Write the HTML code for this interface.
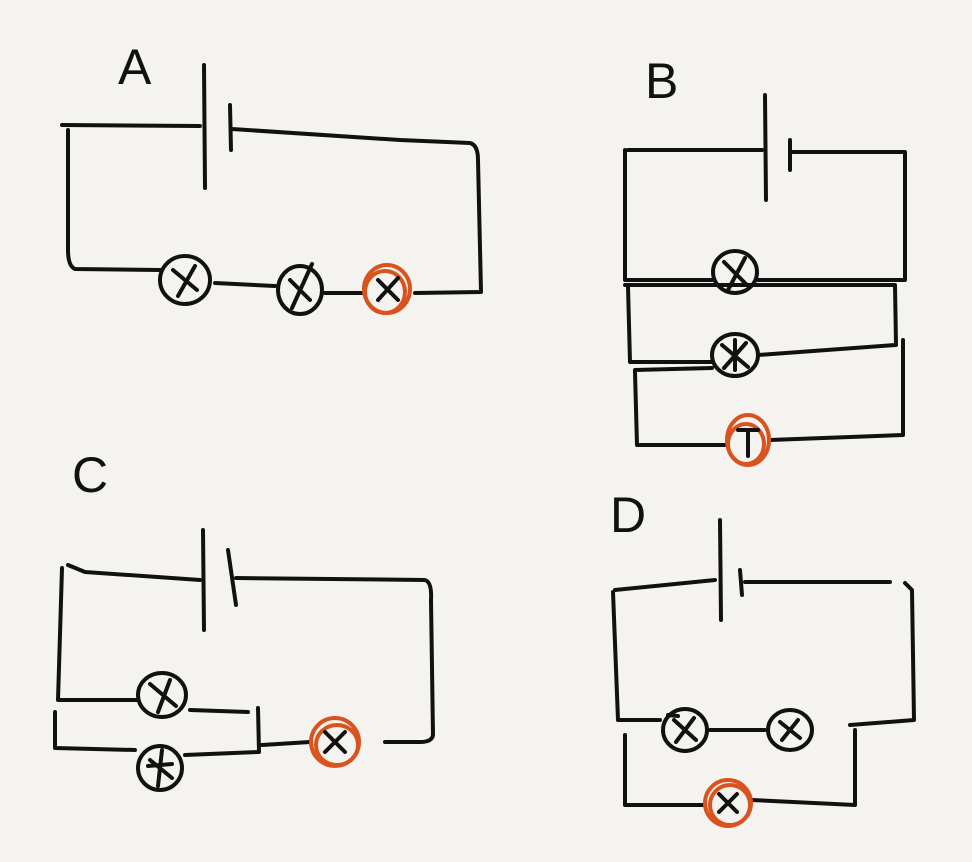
<!DOCTYPE html>
<html><head><meta charset="utf-8"><style>
html,body{margin:0;padding:0;background:#f4f3ef;}
svg{display:block}
text{font-family:"Liberation Sans",sans-serif;font-size:50px;fill:#111;font-weight:300}
</style></head><body>
<svg width="972" height="862" viewBox="0 0 972 862" xmlns="http://www.w3.org/2000/svg">
<rect width="972" height="862" fill="#f4f3ef"/>
<g fill="none" stroke="#111" stroke-width="4" stroke-linecap="round" stroke-linejoin="round">
<!-- A -->
<path d="M62,125 L200,126 M204,65 L205,188 M230,105 L231,150 M232,129 L400,140 L470,143 Q478,145 478,160 L481,292 L415,293"/>
<path d="M362,293 L325,293 M275,286 L215,283 M160,270 L75,269 Q68,266 68,250 L68,130"/>
<ellipse cx="185" cy="280" rx="25" ry="24"/><path d="M173,270 L197,290 M195,266 L178,296"/>
<ellipse cx="300" cy="290" rx="22" ry="24"/><path d="M290,280 L310,300 M312,264 L292,308"/>
<!-- B -->
<path d="M628,150 L762,150 M765,95 L766,200 M790,140 L790,170 M790,152 L905,152 L905,280 L758,280 M712,280 L625,280 L625,150"/>
<path d="M625,285 L895,285 L896,345 M895,345 L758,355 M712,362 L630,362 L628,287"/>
<path d="M635,370 L712,368 M903,340 L903,435 L770,440 M725,445 L637,445 L635,372"/>
<ellipse cx="735" cy="272" rx="22" ry="21"/><path d="M724,262 L746,284 M745,258 L728,290"/>
<ellipse cx="735" cy="355" rx="23" ry="21"/><path d="M722,345 L748,367 M746,343 L724,368 M735,340 L735,370"/>
<!-- C -->
<path d="M68,565 L85,572 L200,580 M203,530 L204,630 M228,550 L236,605 M236,578 L425,580 Q432,582 431,600 L433,735 Q432,742 420,742 L385,742"/>
<path d="M310,742 L262,745 M258,708 L259,752 M62,568 L58,700 L138,700 M190,710 L248,712 M55,712 L55,748 L135,750 M185,755 L258,752"/>
<ellipse cx="162" cy="695" rx="24" ry="22"/><path d="M150,684 L176,706 M170,680 L158,712"/>
<ellipse cx="160" cy="768" rx="22" ry="22"/><path d="M150,760 L172,778 M162,750 L158,786 M148,766 L172,764"/>
<!-- D -->
<path d="M615,590 L715,580 M720,520 L721,620 M740,570 L742,595 M745,582 L890,582 M905,583 L912,590 L914,720 L850,725 M765,730 L710,730 M660,720 L618,720 L613,592"/>
<path d="M625,735 L625,805 L705,805 M752,800 L855,805 L855,730"/>
<ellipse cx="685" cy="730" rx="22" ry="21"/><path d="M674,720 L696,740 M694,718 L676,742 M668,715 L678,716"/>
<ellipse cx="790" cy="730" rx="22" ry="20"/><path d="M780,722 L800,738 M798,720 L782,740"/>
</g>
<g fill="none" stroke-width="4" stroke-linecap="round">
<ellipse cx="387" cy="289" rx="23" ry="24" stroke="#d9531e"/><ellipse cx="385" cy="292" rx="20" ry="21" stroke="#d9531e"/><path d="M378,280 L398,300 M398,278 L378,300" stroke="#111"/>
<ellipse cx="748" cy="440" rx="21" ry="25" stroke="#d9531e"/><ellipse cx="746" cy="444" rx="18" ry="20" stroke="#d9531e"/><path d="M738,430 L758,430 M748,430 L748,456" stroke="#111"/>
<ellipse cx="335" cy="742" rx="24" ry="24" stroke="#d9531e"/><ellipse cx="337" cy="745" rx="21" ry="20" stroke="#d9531e"/><path d="M325,732 L345,752 M345,732 L325,752" stroke="#111"/>
<ellipse cx="728" cy="803" rx="23" ry="23" stroke="#d9531e"/><ellipse cx="730" cy="805" rx="20" ry="20" stroke="#d9531e"/><path d="M719,794 L737,812 M737,794 L719,812" stroke="#111"/>
</g>
<text x="118" y="84">A</text>
<text x="645" y="98">B</text>
<text x="72" y="492">C</text>
<text x="610" y="532">D</text>
</svg>
</body></html>
